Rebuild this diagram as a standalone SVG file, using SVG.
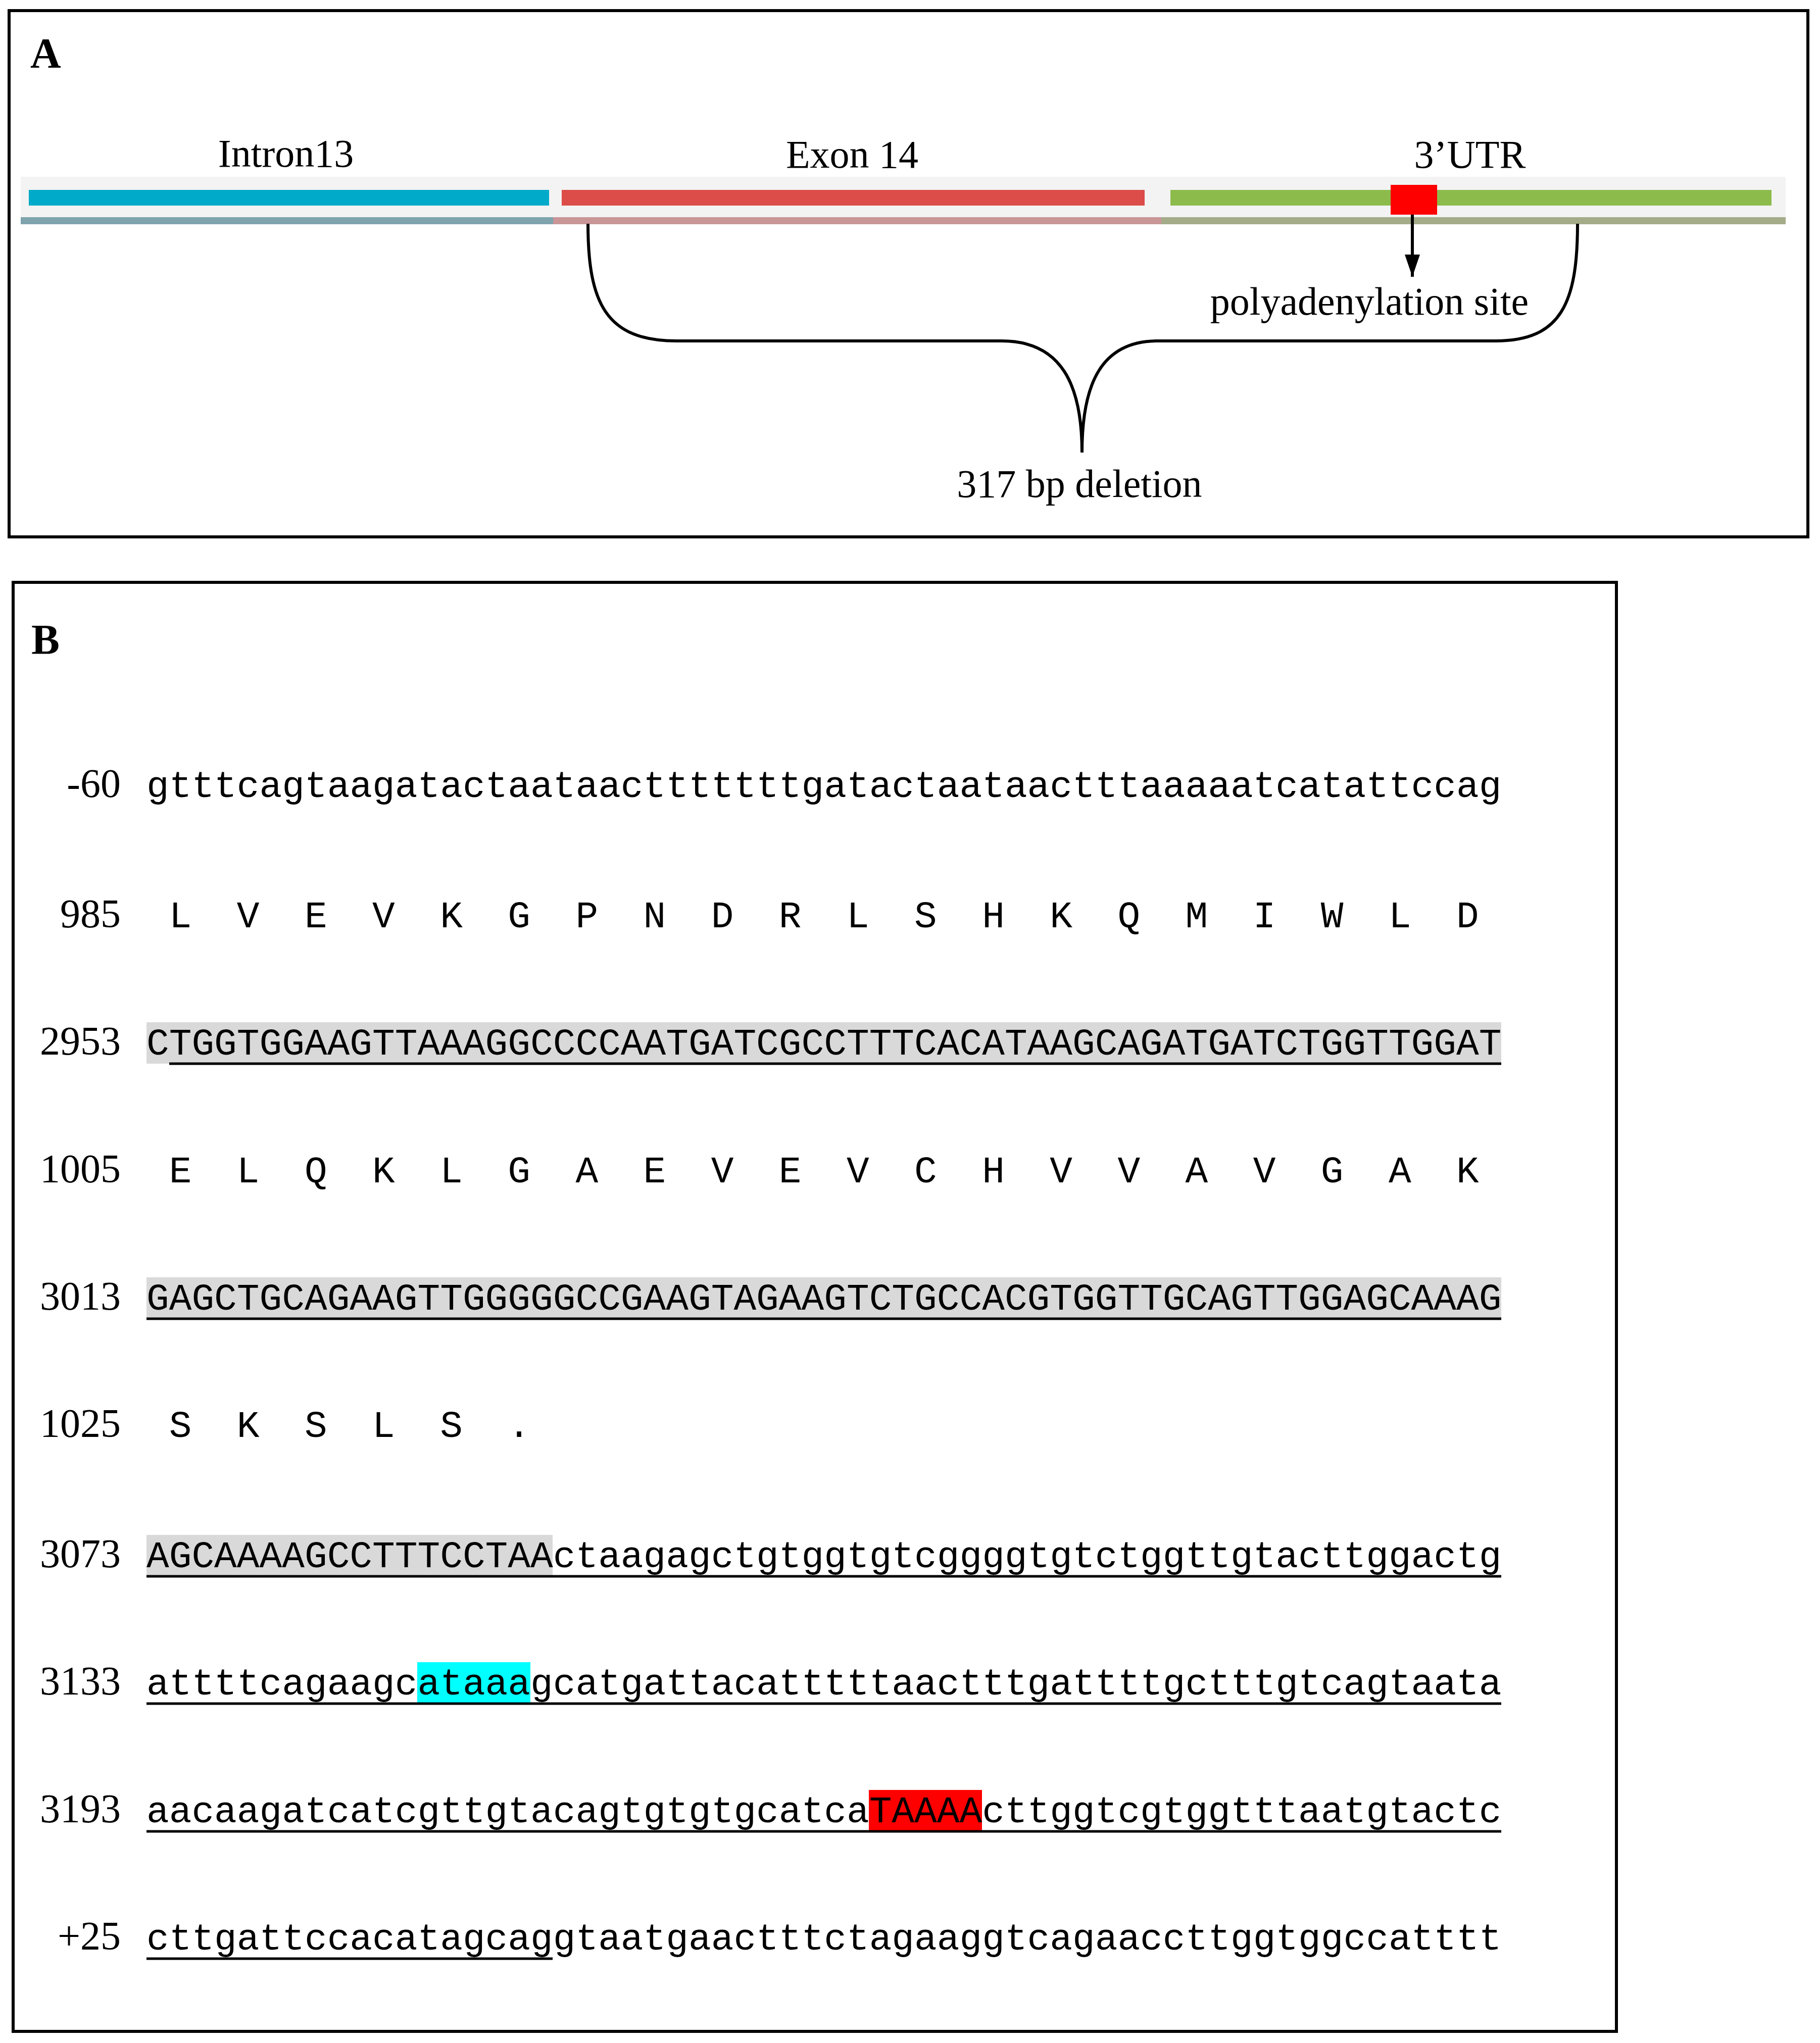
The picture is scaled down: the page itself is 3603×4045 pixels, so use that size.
<svg xmlns="http://www.w3.org/2000/svg" width="3603" height="4045" viewBox="0 0 3603 4045">
<style>
.frame{fill:none;stroke:#000;stroke-width:6}
.lbl{font-family:"Liberation Serif",serif;font-size:78px;fill:#000}
.pan{font-family:"Liberation Serif",serif;font-size:84px;font-weight:bold}
.num{font-family:"Liberation Serif",serif;font-size:80px;text-anchor:end}
.seq{font-family:"Liberation Mono",monospace;font-size:74.5px;white-space:pre}
.ul{stroke:#000;stroke-width:5}
</style>
<defs><marker id="ah" markerWidth="44" markerHeight="30" refX="44" refY="15" orient="auto" markerUnits="userSpaceOnUse" viewBox="0 0 44 30"><path d="M0,0 L44,15 L0,30 z" fill="#000" stroke="none"/></marker></defs>
<g id="panelA">
<rect class="frame" x="18" y="21" width="3561" height="1042"/>
<text class="pan" x="60" y="134">A</text>
<rect x="41" y="350" width="3494" height="94" fill="#f3f3f3"/>
<rect x="41" y="430" width="1054" height="14" fill="#7fa3ad"/>
<rect x="1095" y="430" width="1204" height="14" fill="#c99597"/>
<rect x="2299" y="430" width="1236" height="14" fill="#a4ab88"/>
<rect x="57" y="376" width="1030" height="31" fill="#00aac8"/>
<rect x="1112" y="376" width="1154" height="31" fill="#dc4c48"/>
<rect x="2317" y="376" width="1190" height="31" fill="#8cbb4c"/>
<rect x="2753" y="366" width="92" height="59" fill="#ff0000"/>
<text class="lbl" x="566" y="330" text-anchor="middle">Intron13</text>
<text class="lbl" x="1687" y="332" text-anchor="middle">Exon 14</text>
<text class="lbl" x="2910" y="332" text-anchor="middle">3’UTR</text>
<text class="lbl" x="2711" y="623" text-anchor="middle">polyadenylation site</text>
<text class="lbl" x="2137" y="984" text-anchor="middle">317 bp deletion</text>
</g>
<g id="connectors" fill="none" stroke="#000" stroke-width="6">
<line x1="2796" y1="425" x2="2796" y2="548" marker-end="url(#ah)"/>
<path d="M1164,443 C1164,600 1200,675 1339,675 L1983,675 C2100,675 2142,760 2142,896"/>
<path d="M3123,443 C3123,600 3090,675 2961,675 L2292,675 C2180,675 2142,760 2142,896"/>
</g>
<g id="panelB">
<rect class="frame" x="26" y="1153" width="3174" height="2869"/>
<text class="pan" x="62" y="1295">B</text>
<rect x="290" y="2024" width="2682" height="82" fill="#d9d9d9"/>
<rect x="290" y="2529" width="2682" height="82" fill="#d9d9d9"/>
<rect x="290" y="3039" width="804" height="82" fill="#d9d9d9"/>
<rect x="826" y="3291" width="224" height="82" fill="#00ffff"/>
<rect x="1720" y="3544" width="224" height="82" fill="#ff0000"/>
<line class="ul" x1="335" y1="2106" x2="2972" y2="2106"/>
<line class="ul" x1="290" y1="2611" x2="2972" y2="2611"/>
<line class="ul" x1="290" y1="3121" x2="2972" y2="3121"/>
<line class="ul" x1="290" y1="3373" x2="2972" y2="3373"/>
<line class="ul" x1="290" y1="3626" x2="2972" y2="3626"/>
<line class="ul" x1="290" y1="3878" x2="1094" y2="3878"/>
<text class="num" x="239" y="1578">-60</text>
<text class="num" x="239" y="1836">985</text>
<text class="num" x="239" y="2088">2953</text>
<text class="num" x="239" y="2341">1005</text>
<text class="num" x="239" y="2593">3013</text>
<text class="num" x="239" y="2845">1025</text>
<text class="num" x="239" y="3103">3073</text>
<text class="num" x="239" y="3355">3133</text>
<text class="num" x="239" y="3608">3193</text>
<text class="num" x="239" y="3860">+25</text>
<text class="seq" x="290" y="1578">gtttcagtaagatactaataactttttttgatactaataactttaaaaatcatattccag</text>
<text class="seq" x="290" y="1836" xml:space="preserve"> L  V  E  V  K  G  P  N  D  R  L  S  H  K  Q  M  I  W  L  D</text>
<text class="seq" x="290" y="2088">CTGGTGGAAGTTAAAGGCCCCAATGATCGCCTTTCACATAAGCAGATGATCTGGTTGGAT</text>
<text class="seq" x="290" y="2341" xml:space="preserve"> E  L  Q  K  L  G  A  E  V  E  V  C  H  V  V  A  V  G  A  K</text>
<text class="seq" x="290" y="2593">GAGCTGCAGAAGTTGGGGGCCGAAGTAGAAGTCTGCCACGTGGTTGCAGTTGGAGCAAAG</text>
<text class="seq" x="290" y="2845" xml:space="preserve"> S  K  S  L  S  .</text>
<text class="seq" x="290" y="3103">AGCAAAAGCCTTTCCTAActaagagctgtggtgtcggggtgtctggttgtacttggactg</text>
<text class="seq" x="290" y="3355">attttcagaagcataaagcatgattacatttttaactttgattttgctttgtcagtaata</text>
<text class="seq" x="290" y="3608">aacaagatcatcgttgtacagtgtgtgcatcaTAAAActtggtcgtggtttaatgtactc</text>
<text class="seq" x="290" y="3860">cttgattccacatagcaggtaatgaactttctagaaggtcagaaccttggtggccatttt</text>
</g>
</svg>
